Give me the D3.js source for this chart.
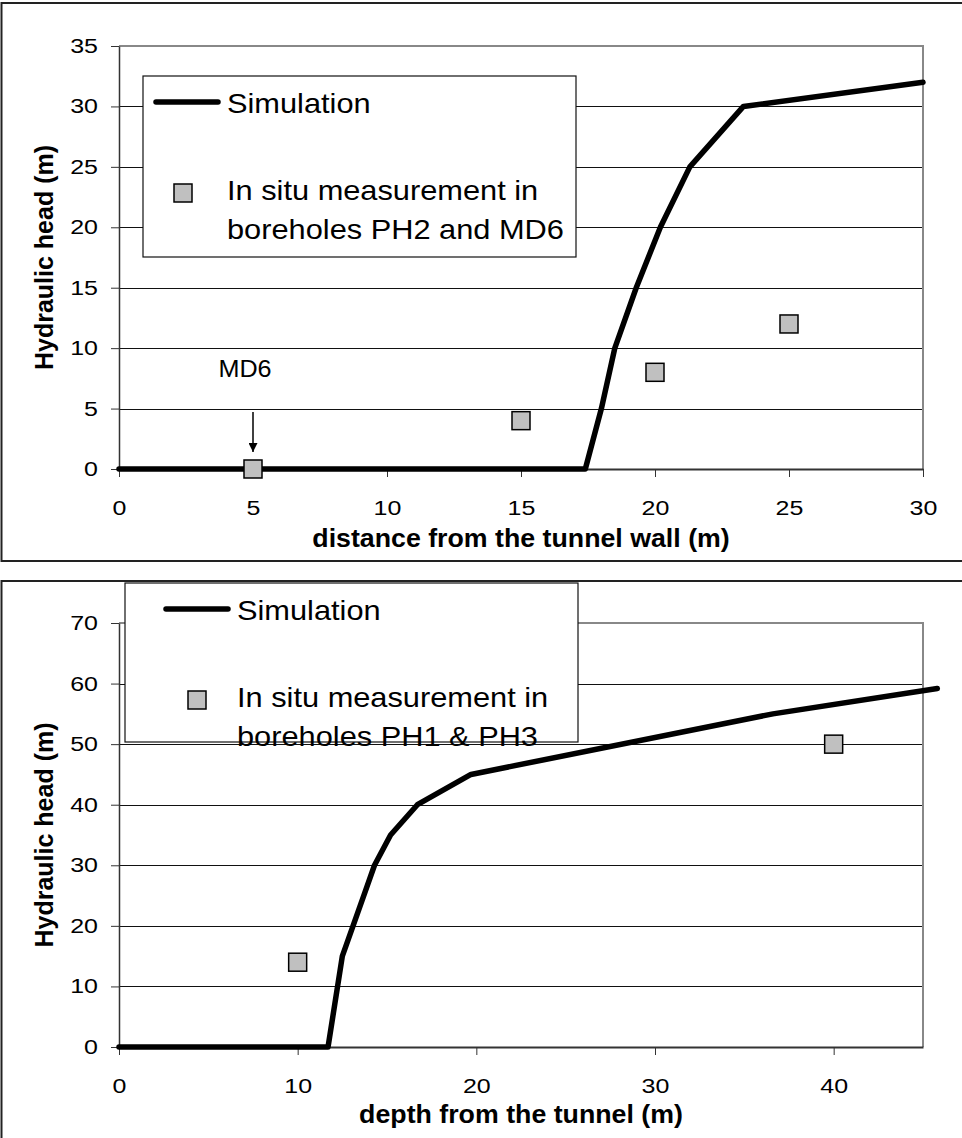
<!DOCTYPE html>
<html>
<head>
<meta charset="utf-8">
<script src="https://cdn.jsdelivr.net/npm/d3@7"></script>
<style>
  body { margin: 0; background: #fff; }
  svg { display: block; font-family: "Liberation Sans", Arial, sans-serif; }
</style>
</head>
<body>
<svg id="chart" width="962" height="1138"></svg>
<script>
// top panel: distance from the tunnel wall
const wallSimX = [0, 17.4, 18, 18.5, 19.3, 20.2, 21.3, 23.3, 30];
const wallSimY = [0, 0, 5, 10, 15, 20, 25, 30, 32];
const wallMeasX = [5, 15, 20, 25];
const wallMeasY = [0, 4, 8, 12];
const wallXTicks = [0, 5, 10, 15, 20, 25, 30];
const wallYTicks = [0, 5, 10, 15, 20, 25, 30, 35];

// bottom panel: depth from the tunnel
const depthSimX = [0, 11.7, 12.5, 13.1, 13.7, 14.3, 15.2, 16.7, 19.7, 36.6, 45.8];
const depthSimY = [0, 0, 15, 20, 25, 30, 35, 40, 45, 55, 59.2];
const depthMeasX = [10, 40];
const depthMeasY = [14, 50];
const depthXTicks = [0, 10, 20, 30, 40];
const depthYTicks = [0, 10, 20, 30, 40, 50, 60, 70];

const svg = d3.select("#chart");
const tickScale = "scale(1.22,1)";

function drawPanel(cfg) {
  // outer frame of the panel
  svg.append("rect")
    .attr("x", 1.5).attr("y", cfg.frameTop)
    .attr("width", 975).attr("height", cfg.frameH)
    .attr("fill", "none").attr("stroke", "#222").attr("stroke-width", 2);

  const x = d3.scaleLinear().domain(cfg.xDomain).range([119, 923]);
  const y = d3.scaleLinear().domain(cfg.yDomain).range([cfg.bottom, cfg.top]);
  const g = svg.append("g");

  // gridlines
  g.append("g")
    .attr("transform", "translate(119,0)")
    .call(d3.axisLeft(y).tickValues(cfg.yTicks.slice(1, -1)).tickSize(-804).tickFormat(""))
    .call(a => a.select(".domain").remove())
    .call(a => a.selectAll("line").attr("stroke", "#111").attr("stroke-width", 1)
      .attr("shape-rendering", "crispEdges"));

  // plot border top/right (grey)
  g.append("path")
    .attr("d", `M119,${cfg.top}H923V${cfg.bottom}`)
    .attr("fill", "none").attr("stroke", "#888").attr("stroke-width", 2);

  // y axis
  g.append("g")
    .attr("transform", "translate(119,0)")
    .call(d3.axisLeft(y).tickValues(cfg.yTicks).tickSizeInner(8).tickSizeOuter(0))
    .call(a => a.select(".domain").attr("stroke", "#333").attr("stroke-width", 1.5))
    .call(a => a.selectAll("line").attr("stroke", "#333"))
    .call(a => a.selectAll("text")
      .attr("x", null)
      .attr("transform", "translate(-21,0) " + tickScale)
      .attr("font-size", 20.5).attr("fill", "#000")
      .attr("font-family", "Liberation Sans, Arial, sans-serif"));

  // x axis
  g.append("g")
    .attr("transform", `translate(0,${cfg.bottom})`)
    .call(d3.axisBottom(x).tickValues(cfg.xTicks).tickSizeInner(8).tickSizeOuter(0))
    .call(a => a.select(".domain").attr("stroke", "#333").attr("stroke-width", 2))
    .call(a => a.selectAll("line").attr("stroke", "#333"))
    .call(a => a.selectAll("text")
      .attr("y", null)
      .attr("transform", "translate(0,31) " + tickScale)
      .attr("font-size", 20.5).attr("fill", "#000")
      .attr("font-family", "Liberation Sans, Arial, sans-serif"));

  // axis titles
  g.append("text")
    .attr("transform", `translate(521,${cfg.xTitleY}) scale(1.07,1)`)
    .attr("text-anchor", "middle")
    .attr("font-size", 25).attr("font-weight", "bold")
    .text(cfg.xTitle);
  g.append("text")
    .attr("transform", `translate(53,${(cfg.top + cfg.bottom) / 2}) rotate(-90)`)
    .attr("text-anchor", "middle")
    .attr("font-size", 25).attr("font-weight", "bold")
    .text("Hydraulic head (m)");

  // legend box
  const lg = cfg.legend;
  g.append("rect")
    .attr("x", lg.x).attr("y", lg.y).attr("width", lg.w).attr("height", lg.h)
    .attr("fill", "#fff").attr("stroke", "#111").attr("stroke-width", 1.2);
  g.append("line")
    .attr("x1", lg.x + lg.lineX0).attr("x2", lg.x + lg.lineX0 + 62)
    .attr("y1", lg.y + 26).attr("y2", lg.y + 26)
    .attr("stroke", "#000").attr("stroke-width", 5.5).attr("stroke-linecap", "round");
  const legText = (txt, ty) => g.append("text")
    .attr("transform", `translate(${lg.x + lg.textX},${lg.y + ty}) scale(1.14,1)`)
    .attr("font-size", 27).attr("fill", "#000").text(txt);
  legText("Simulation", 37);
  g.append("rect")
    .attr("x", lg.x + lg.markX - 9).attr("y", lg.y + 108).attr("width", 18).attr("height", 18)
    .attr("fill", "#c0c0c0").attr("stroke", "#000").attr("stroke-width", 1.5);
  legText("In situ measurement in", 124);
  legText(cfg.legendLine2, 163);

  // simulation line
  const line = d3.line().x(d => x(d[0])).y(d => y(d[1]));
  g.append("path")
    .datum(d3.zip(cfg.simX, cfg.simY))
    .attr("d", line)
    .attr("fill", "none").attr("stroke", "#000").attr("stroke-width", 5.5)
    .attr("stroke-linejoin", "round").attr("stroke-linecap", "round");

  // measurements
  g.selectAll(".meas")
    .data(d3.zip(cfg.measX, cfg.measY))
    .join("rect")
    .attr("x", d => x(d[0]) - 9).attr("y", d => y(d[1]) - 9)
    .attr("width", 18).attr("height", 18)
    .attr("fill", "#c0c0c0").attr("stroke", "#000").attr("stroke-width", 1.5);

  return { x, y, g };
}

const wallPanel = drawPanel({
  frameTop: 3, frameH: 558,
  top: 46, bottom: 469,
  xDomain: [0, 30], yDomain: [0, 35],
  xTicks: wallXTicks, yTicks: wallYTicks,
  simX: wallSimX, simY: wallSimY, measX: wallMeasX, measY: wallMeasY,
  xTitle: "distance from the tunnel wall (m)", xTitleY: 547,
  legend: { x: 143, y: 76, w: 433, h: 181, lineX0: 13, textX: 84, markX: 40 },
  legendLine2: "boreholes PH2 and MD6"
});

// MD6 annotation
const md6 = wallMeasX[0];
wallPanel.g.append("text")
  .attr("transform", `translate(${wallPanel.x(md6) - 8},377) scale(1.05,1)`)
  .attr("text-anchor", "middle").attr("font-size", 24).text("MD6");
svg.append("defs").append("marker")
  .attr("id", "arrow").attr("viewBox", "0 0 10 10")
  .attr("refX", 10).attr("refY", 5)
  .attr("markerWidth", 6).attr("markerHeight", 6).attr("markerUnits", "strokeWidth")
  .attr("orient", "auto")
  .append("path").attr("d", "M0,0L10,5L0,10Z").attr("fill", "#000");
wallPanel.g.append("line")
  .attr("x1", wallPanel.x(md6)).attr("x2", wallPanel.x(md6))
  .attr("y1", 412).attr("y2", 452)
  .attr("stroke", "#000").attr("stroke-width", 1.5)
  .attr("marker-end", "url(#arrow)");

drawPanel({
  frameTop: 581, frameH: 560,
  top: 623, bottom: 1047,
  xDomain: [0, 45], yDomain: [0, 70],
  xTicks: depthXTicks, yTicks: depthYTicks,
  simX: depthSimX, simY: depthSimY, measX: depthMeasX, measY: depthMeasY,
  xTitle: "depth from the tunnel (m)", xTitleY: 1123,
  legend: { x: 125, y: 583, w: 453, h: 159, lineX0: 41, textX: 112, markX: 72 },
  legendLine2: "boreholes PH1 & PH3"
});
</script>
</body>
</html>
